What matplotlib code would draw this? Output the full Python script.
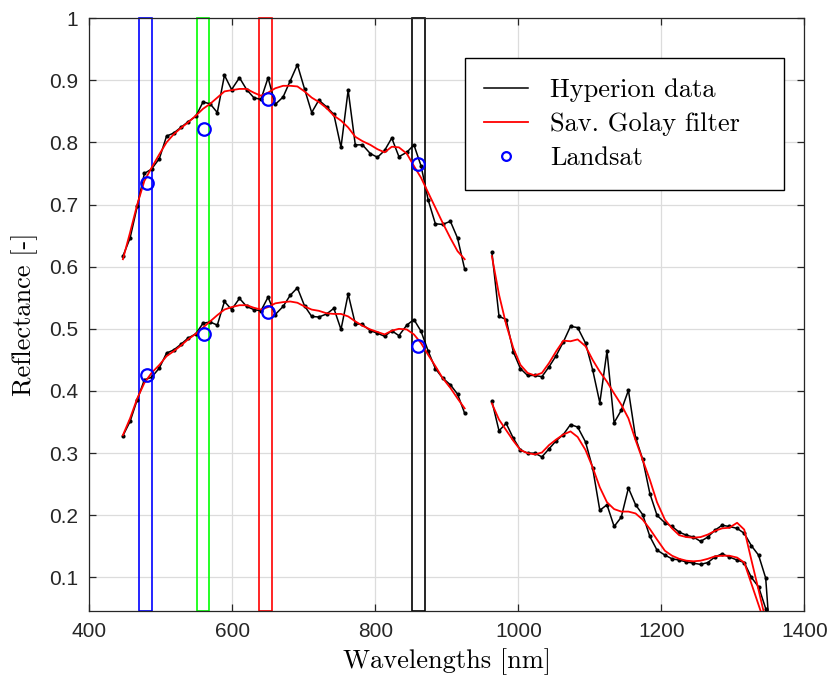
import matplotlib
matplotlib.use('Agg')
import matplotlib.pyplot as plt
from matplotlib.patches import Rectangle

# Hyperion band centres [nm]
wl_vnir = [447, 457, 467, 477, 487, 498, 508, 518, 528, 538, 549, 559, 569, 579, 589, 599,
           610, 620, 630, 640, 650, 660, 671, 681, 691, 701, 711, 721, 732, 742, 752, 762,
           772, 782, 793, 803, 813, 823, 833, 844, 854, 864, 874, 884, 894, 905, 915, 925]
wl_swir = [963, 973, 983, 993, 1003, 1013, 1023, 1033, 1043, 1053, 1063, 1073, 1083, 1094,
           1104, 1114, 1124, 1134, 1144, 1154, 1164, 1174, 1184, 1194, 1205, 1215, 1225, 1235,
           1245, 1255, 1265, 1275, 1285, 1295, 1306, 1316, 1326, 1336, 1346, 1356]

# upper spectrum
hyp_up_vnir = [0.617, 0.646, 0.697, 0.750, 0.757, 0.774, 0.810, 0.815, 0.824, 0.833,
               0.842, 0.865, 0.862, 0.848, 0.908, 0.885, 0.904, 0.885, 0.872, 0.869,
               0.904, 0.861, 0.873, 0.899, 0.925, 0.886, 0.848, 0.868, 0.857, 0.845,
               0.792, 0.884, 0.796, 0.796, 0.782, 0.776, 0.787, 0.807, 0.777, 0.784,
               0.796, 0.762, 0.707, 0.669, 0.668, 0.673, 0.646, 0.596]
hyp_up_swir = [0.624, 0.520, 0.515, 0.463, 0.436, 0.425, 0.425, 0.423, 0.439, 0.457,
               0.479, 0.504, 0.502, 0.477, 0.434, 0.381, 0.464, 0.349, 0.369, 0.401,
               0.325, 0.290, 0.235, 0.200, 0.188, 0.182, 0.173, 0.168, 0.165, 0.158,
               0.165, 0.176, 0.184, 0.182, 0.179, 0.171, 0.151, 0.136, 0.099, -0.06]
sg_up_vnir = [0.612, 0.655, 0.700, 0.738, 0.759, 0.781, 0.800, 0.813, 0.823, 0.832,
              0.843, 0.854, 0.862, 0.872, 0.882, 0.884, 0.886, 0.886, 0.880, 0.875,
              0.880, 0.887, 0.891, 0.891, 0.890, 0.882, 0.872, 0.865, 0.855, 0.843,
              0.835, 0.824, 0.809, 0.802, 0.796, 0.789, 0.784, 0.793, 0.792, 0.782,
              0.762, 0.743, 0.719, 0.695, 0.671, 0.646, 0.625, 0.612]
sg_up_swir = [0.617, 0.555, 0.507, 0.469, 0.442, 0.429, 0.425, 0.429, 0.445, 0.464,
              0.481, 0.480, 0.483, 0.472, 0.450, 0.431, 0.415, 0.396, 0.378, 0.356,
              0.321, 0.289, 0.257, 0.221, 0.193, 0.179, 0.168, 0.165, 0.164, 0.165,
              0.169, 0.175, 0.179, 0.180, 0.188, 0.177, 0.128, 0.080, 0.031, -0.02]

# lower spectrum
hyp_lo_vnir = [0.328, 0.351, 0.386, 0.418, 0.422, 0.437, 0.461, 0.466, 0.475, 0.485,
               0.492, 0.509, 0.511, 0.506, 0.544, 0.531, 0.549, 0.536, 0.531, 0.529,
               0.551, 0.523, 0.536, 0.554, 0.566, 0.537, 0.520, 0.519, 0.524, 0.533,
               0.499, 0.556, 0.508, 0.507, 0.497, 0.493, 0.488, 0.497, 0.489, 0.506,
               0.515, 0.496, 0.464, 0.436, 0.421, 0.410, 0.395, 0.364]
hyp_lo_swir = [0.384, 0.336, 0.348, 0.324, 0.305, 0.300, 0.300, 0.294, 0.307, 0.320,
               0.330, 0.346, 0.342, 0.318, 0.276, 0.208, 0.217, 0.182, 0.197, 0.244,
               0.217, 0.201, 0.166, 0.144, 0.136, 0.130, 0.128, 0.125, 0.123, 0.121,
               0.124, 0.133, 0.138, 0.133, 0.128, 0.124, 0.100, 0.085, 0.050, -0.12]
sg_lo_vnir = [0.329, 0.356, 0.388, 0.413, 0.429, 0.442, 0.456, 0.464, 0.473, 0.483,
              0.492, 0.502, 0.512, 0.522, 0.531, 0.535, 0.538, 0.538, 0.534, 0.531,
              0.535, 0.541, 0.543, 0.544, 0.542, 0.536, 0.531, 0.529, 0.525, 0.524,
              0.524, 0.520, 0.512, 0.505, 0.499, 0.495, 0.491, 0.497, 0.500, 0.499,
              0.491, 0.477, 0.458, 0.440, 0.421, 0.405, 0.388, 0.372]
sg_lo_swir = [0.380, 0.354, 0.337, 0.320, 0.305, 0.300, 0.298, 0.301, 0.313, 0.322,
              0.330, 0.335, 0.326, 0.305, 0.277, 0.245, 0.221, 0.210, 0.206, 0.206,
              0.203, 0.193, 0.178, 0.161, 0.143, 0.135, 0.130, 0.127, 0.126, 0.127,
              0.130, 0.134, 0.135, 0.135, 0.132, 0.124, 0.090, 0.056, 0.022, -0.012]

# Landsat bands
ls_wl = [480, 560, 650, 860]
ls_up = [0.734, 0.821, 0.870, 0.765]
ls_lo = [0.426, 0.491, 0.527, 0.472]
band_lo = [469, 550, 637, 851]
band_hi = [488, 568, 655, 869]
band_col = ['#0000ff', '#00ff00', '#ff0000', '#000000']

ymin, ymax = 0.046, 1.0
yticks = [0.1, 0.2, 0.3, 0.4, 0.5, 0.6, 0.7, 0.8, 0.9, 1.0]
ytick_labels = ['0.1', '0.2', '0.3', '0.4', '0.5', '0.6', '0.7', '0.8', '0.9', '1']
xticks = [400, 600, 800, 1000, 1200, 1400]

serif = 'cmr10'
axcol = '#262626'

fig = plt.figure(figsize=(8.34, 6.79), dpi=100)
ax = fig.add_axes([0.1071, 0.1001, 0.8573, 0.8733])

for lo, hi, c in zip(band_lo, band_hi, band_col):
    ax.add_patch(Rectangle((lo, ymin), hi - lo, ymax - ymin, fill=False,
                           edgecolor=c, linewidth=1.2, zorder=2, clip_on=False))

first = True
for wl, hyp, sg in [(wl_vnir, hyp_up_vnir, sg_up_vnir), (wl_swir, hyp_up_swir, sg_up_swir),
                    (wl_vnir, hyp_lo_vnir, sg_lo_vnir), (wl_swir, hyp_lo_swir, sg_lo_swir)]:
    ax.plot(wl, hyp, color='black', linewidth=1.1, zorder=3,
            label='Hyperion data' if first else None)
    ax.plot(wl, hyp, linestyle='none', marker='o', markersize=2.0, color='black', zorder=3)
    ax.plot(wl, sg, color='#ff0000', linewidth=1.3, zorder=4,
            label='Sav. Golay filter' if first else None)
    first = False

ax.plot(ls_wl, ls_up, linestyle='none', marker='o', markersize=9, markerfacecolor='none',
        markeredgecolor='#0000ff', markeredgewidth=1.6, zorder=5, label='Landsat')
ax.plot(ls_wl, ls_lo, linestyle='none', marker='o', markersize=9, markerfacecolor='none',
        markeredgecolor='#0000ff', markeredgewidth=1.6, zorder=5)

ax.set_xlim(400, 1400)
ax.set_ylim(ymin, ymax)
ax.set_xticks(xticks)
ax.set_yticks(yticks)
ax.set_yticklabels(ytick_labels)
ax.grid(True, color='#dcdcdc', linewidth=0.9)
ax.set_axisbelow(True)
ax.tick_params(direction='in', top=True, right=True, length=5, width=0.9,
               labelsize=15, colors=axcol, pad=8)
for lab in ax.get_xticklabels() + ax.get_yticklabels():
    lab.set_fontfamily('Liberation Sans')
for s in ax.spines.values():
    s.set_color(axcol)
    s.set_linewidth(0.9)

ax.set_xlabel('Wavelengths [nm]', fontfamily=serif, fontsize=19, labelpad=5)
ax.set_ylabel('Reflectance [-]', fontfamily=serif, fontsize=19, labelpad=8)

leg = ax.legend(loc='upper left', bbox_to_anchor=(0.525, 0.715, 0.447, 0.217), mode='expand',
                borderaxespad=0, prop={'family': serif, 'size': 19}, fancybox=False,
                edgecolor='black', framealpha=1, handlelength=1.65, handletextpad=0.85,
                labelspacing=0.4, borderpad=0.75, markerscale=0.7)
leg.get_frame().set_linewidth(1.0)

fig.savefig('out.png', dpi=100)
